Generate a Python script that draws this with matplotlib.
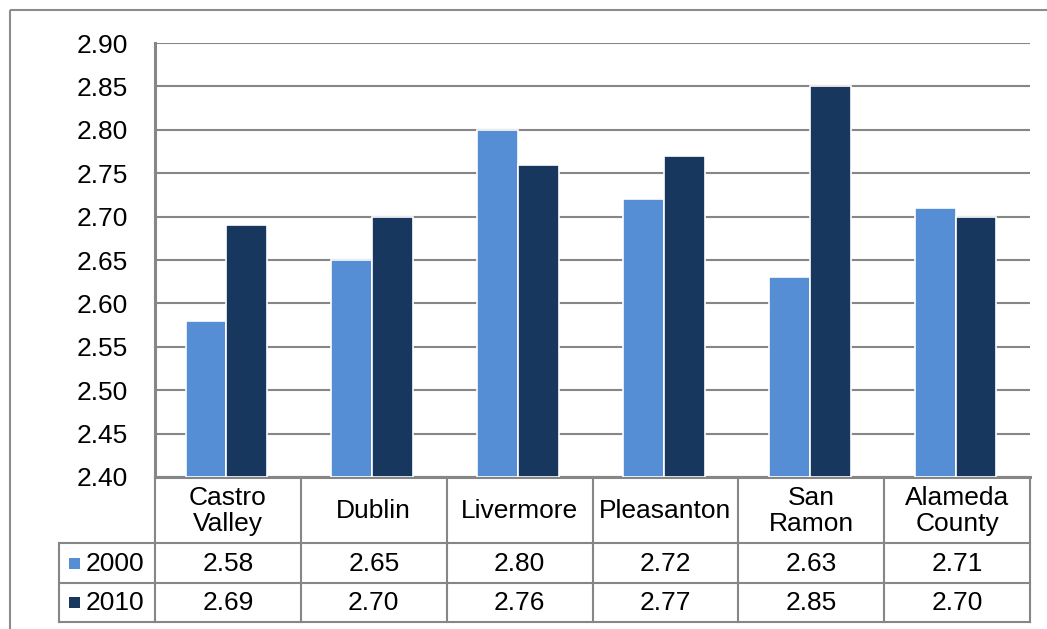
import matplotlib
matplotlib.use("Agg")
import matplotlib.pyplot as plt
import numpy as np
from matplotlib.patches import Rectangle

plt.rcParams['font.family'] = ['Liberation Sans', 'DejaVu Sans']

# Average household size
places = ["Castro\nValley", "Dublin", "Livermore", "Pleasanton", "San\nRamon", "Alameda\nCounty"]
years = ["2000", "2010"]
size_2000 = [2.58, 2.65, 2.80, 2.72, 2.63, 2.71]
size_2010 = [2.69, 2.70, 2.76, 2.77, 2.85, 2.70]
colors = ["#558ED5", "#17375E"]

W, H = 1047, 629
GRID = "#868686"
FS = 19

fig = plt.figure(figsize=(W / 100, H / 100), dpi=100)

# plot area in pixel units
left, right, top, bottom = 155, 1030, 43, 477
row_lines = [543, 583, 622]
leg_left = 59

ax = fig.add_axes([left / W, 1 - bottom / H, (right - left) / W, (bottom - top) / H])
n = len(places)
x = np.arange(n) + 0.5
bw = 0.28
for k, vals in enumerate([size_2000, size_2010]):
    ax.bar(x + (k - 0.5) * bw - 0.01, np.array(vals) - 2.40, bottom=2.40, width=bw,
           color=colors[k], edgecolor="white", linewidth=1.2, zorder=3)

ax.set_xlim(0, n)
ax.set_ylim(2.40, 2.90)
ticks = np.arange(2.40, 2.901, 0.05)
ax.set_yticks(ticks)
ax.set_yticklabels([f"{v:.2f}" for v in ticks], fontsize=FS)
ax.tick_params(axis="y", length=0, pad=19.5)
ax.set_xticks([])
ax.yaxis.grid(True, color=GRID, linewidth=1.5)
ax.set_axisbelow(True)
for s in ["top", "right"]:
    ax.spines[s].set_visible(False)
ax.spines["left"].set_color(GRID)
ax.spines["left"].set_linewidth(2.2)
ax.spines["bottom"].set_color(GRID)
ax.spines["bottom"].set_linewidth(2.2)

# data table underneath, drawn in pixel coordinates
tab = fig.add_axes([0, 0, 1, 1], zorder=5)
tab.set_xlim(0, W)
tab.set_ylim(H, 0)
tab.axis("off")
tab.patch.set_alpha(0)

# outer frame
tab.add_patch(Rectangle((10, 10), W + 20, H + 20, fill=False, edgecolor="#8c8c8c", linewidth=1.5))

col_w = (right - left) / n
edges = [left + i * col_w for i in range(n + 1)]
for e in edges:
    tab.plot([e, e], [bottom, row_lines[-1]], color=GRID, linewidth=1.5)
tab.plot([leg_left, leg_left], [row_lines[0], row_lines[-1]], color=GRID, linewidth=1.5)
for y in row_lines:
    tab.plot([leg_left, right], [y, y], color=GRID, linewidth=1.5)

for i, name in enumerate(places):
    cx = (edges[i] + edges[i + 1]) / 2
    tab.text(cx, (bottom + row_lines[0]) / 2 + 1, name, ha="center", va="center",
             fontsize=FS, linespacing=1.1)
    for r, vals in enumerate([size_2000, size_2010]):
        tab.text(cx, (row_lines[r] + row_lines[r + 1]) / 2 + 1, f"{vals[i]:.2f}",
                 ha="center", va="center", fontsize=FS)

for r, yr in enumerate(years):
    cy = (row_lines[r] + row_lines[r + 1]) / 2
    tab.add_patch(Rectangle((69, cy - 5.5), 11, 11, color=colors[r], linewidth=0))
    tab.text(86, cy + 1, yr, ha="left", va="center", fontsize=FS)

fig.savefig("out.png", dpi=100)
